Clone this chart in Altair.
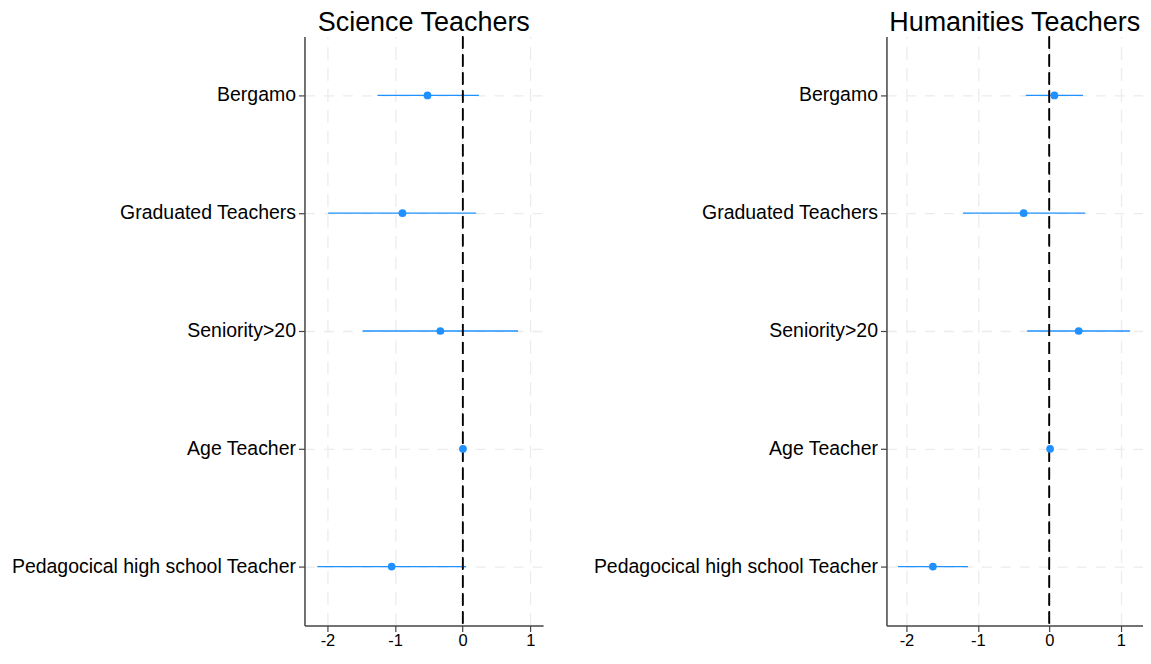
import altair as alt
import pandas as pd

categories = ["Bergamo", "Graduated Teachers", "Seniority>20", "Age Teacher",
              "Pedagocical high school Teacher"]

sci_coef = [-0.52, -0.89, -0.33, 0.005, -1.05]
sci_lo = [-1.26, -1.99, -1.48, -0.005, -2.15]
sci_hi = [0.24, 0.20, 0.82, 0.015, 0.05]

hum_coef = [0.07, -0.36, 0.41, 0.01, -1.63]
hum_lo = [-0.33, -1.21, -0.31, 0.0, -2.12]
hum_hi = [0.47, 0.50, 1.13, 0.02, -1.14]

x_ticks = [-2, -1, 0, 1]

FONT = "Liberation Sans"
BLUE = "#1e90ff"


def panel(title, coef, lo, hi, domain, width):
    df = pd.DataFrame({"var": categories, "coef": coef, "lo": lo, "hi": hi})
    xscale = alt.Scale(domain=domain, nice=False, zero=False)
    yscale = alt.Scale(type="band", paddingInner=0, paddingOuter=0)
    yaxis = alt.Axis(title=None, labelFontSize=19.5, labelFont=FONT,
                     labelColor="#000", tickSize=6, tickColor="#444",
                     domainColor="#444", domainWidth=1.5, tickWidth=1.2,
                     grid=True, gridDash=[10, 9], gridColor="#ececec",
                     gridWidth=1.3, labelPadding=3, labelLimit=400,
                     bandPosition=0.5)
    xaxis = alt.Axis(title=None, values=x_ticks, labelExpr="'' + datum.value",
                     labelFontSize=16.5, labelFont=FONT, labelColor="#000",
                     tickSize=6, tickColor="#444",
                     domainColor="#444", domainWidth=1.5, tickWidth=1.2,
                     grid=True, gridDash=[13, 8], gridColor="#ececec",
                     gridWidth=1.3, labelPadding=1)
    base = alt.Chart(df)
    ci = base.mark_rule(color=BLUE, strokeWidth=1.3).encode(
        x=alt.X("lo:Q", scale=xscale, axis=xaxis), x2="hi:Q",
        y=alt.Y("var:N", sort=categories, scale=yscale, axis=yaxis))
    zero = base.mark_rule(color="#000", strokeDash=[12, 6], strokeWidth=1.3).encode(
        x=alt.datum(0))
    pts = base.mark_point(filled=True, color=BLUE, opacity=1, size=60).encode(
        x=alt.X("coef:Q", scale=xscale, axis=xaxis),
        y=alt.Y("var:N", sort=categories, scale=yscale, axis=yaxis))
    return alt.layer(ci, zero, pts).properties(
        width=width, height=590,
        view=alt.ViewBackground(stroke="transparent", strokeWidth=0),
        title=alt.TitleParams(title, fontSize=27, font=FONT, fontWeight="normal",
                              color="#000", anchor="middle", offset=-1))


left = panel("Science Teachers", sci_coef, sci_lo, sci_hi, [-2.34, 1.19], 239)
right = panel("Humanities Teachers", hum_coef, hum_lo, hum_hi, [-2.28, 1.31], 257)

chart = alt.hconcat(left, right, spacing=49).configure_view(
    stroke="transparent", strokeWidth=0).properties(
    padding={"left": 2, "top": 0, "right": 0, "bottom": 0}).configure(
    background="white")

chart.save("out.html", embed_options={"renderer": "svg", "actions": False})
